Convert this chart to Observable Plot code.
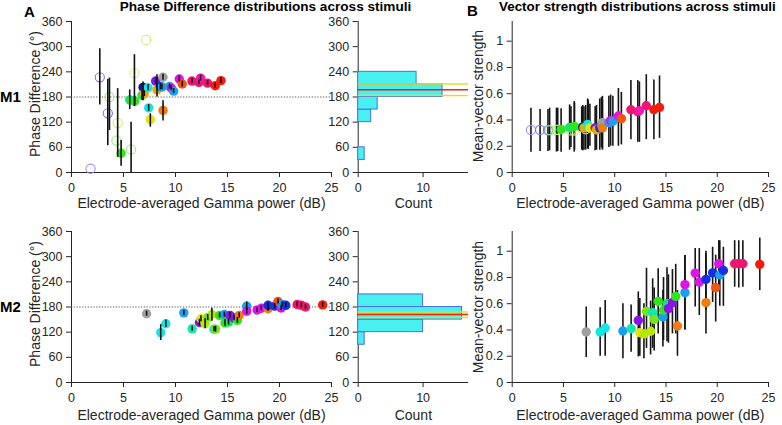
<!DOCTYPE html>
<html><head><meta charset="utf-8">
<script src="https://cdn.jsdelivr.net/npm/d3@7"></script>
<script src="https://cdn.jsdelivr.net/npm/@observablehq/plot@0.6"></script>
<style>
body{margin:0;background:#fff;}
#wrap{position:relative;width:782px;height:425px;overflow:hidden;font-family:"Liberation Sans",Arial,Helvetica,sans-serif;color:#262626;background:#fff}
.t{position:absolute;font-weight:bold;line-height:1.1;white-space:nowrap;color:#000}
#wrap svg{position:absolute;overflow:visible}
</style></head><body><div id="wrap"></div>
<script>
// ---------- data ----------
const colorNames = ["red","orangered","orange","amber","yellow","yellowgreen","chartreuse","green","spring","aqua","cyan","sky","blue","navy","purple","magenta","pink","crimson","gray","lavender","periwinkle","slate","lightgreen","palegreen"];
const colorHex   = ["#f51b0d","#f2520a","#f27a12","#f0a800","#e6e600","#b8e60a","#78e614","#2ee619","#14e66b","#14e6b0","#14e6e6","#1aa0f0","#1430e6","#14149e","#8a14e6","#dc14e6","#f01ab0","#f0146e","#a0a0a0","#a58cf5","#7878f0","#8070f0","#98f078","#d0f078"];

const gammaTicks = [0,5,10,15,20,25];
const phaseTicks = [0,60,120,180,240,300,360];
const vsTicks = [0,0.2,0.4,0.6,0.8,1];
const countTicks = [0,10];

// Monkey M1
const m1X = [1.83,2.72,3.49,3.65,4.32,4.44,4.77,5.6,5.73,6.05,6.08,6.78,6.88,7.0,7.17,7.36,7.42,7.58,8.09,8.22,8.54,8.7,8.8,8.8,9.43,9.6,9.82,10.36,10.65,11.58,12.25,12.41,13.08,13.82,14.37];
const m1Color = ["lavender","periwinkle","slate","lightgreen","lightgreen","palegreen","green","spring","lightgreen","palegreen","green","spring","navy","amber","palegreen","cyan","cyan","yellow","purple","amber","blue","sky","gray","orange","sky","magenta","sky","magenta","orangered","crimson","crimson","pink","crimson","red","red"];
const m1Open = [1,1,1,1,1,1,0,0,1,1,0,0,0,0,1,0,0,0,0,0,0,0,0,0,0,0,0,0,0,0,0,0,0,0,0];
const m1Phase   = [9,227,141,180,76,118,46,173,55,237,170,184,203,188,316,202,154,126,218,197,205,204,227,148,205,201,194,223,211,218,215,225,213,207,219];
const m1PhaseLo = [null,161,64,100,null,36,15,150,0,157,160,172,171,181,null,195,146,108,211,180,197,197,220,123,199,195,188,216,204,212,209,218,207,201,212];
const m1PhaseHi = [null,295,222,225,null,200,76,197,120,281,182,196,216,195,null,209,162,140,225,233,213,211,234,171,211,207,200,230,218,224,221,232,219,213,226];
const m1VS   = [0.324,0.324,0.322,0.322,0.325,0.325,0.328,0.344,0.32,0.32,0.35,0.345,0.345,0.34,0.33,0.365,0.35,0.34,0.34,0.325,0.34,0.36,0.38,0.34,0.38,0.395,0.39,0.43,0.41,0.478,0.463,0.47,0.508,0.478,0.495];
const m1VSLo = [0.155,0.16,0.16,0.165,0.155,0.16,0.155,0.17,0.19,0.155,0.17,0.17,0.165,0.17,0.17,0.18,0.175,0.2,0.165,0.17,0.17,0.19,0.18,0.17,0.19,0.2,0.2,0.2,0.21,0.25,0.23,0.23,0.25,0.25,0.26];
const m1VSHi = [0.49,0.48,0.48,0.49,0.49,0.49,0.485,0.515,0.5,0.54,0.53,0.5,0.51,0.5,0.51,0.56,0.55,0.52,0.5,0.51,0.56,0.57,0.58,0.55,0.58,0.59,0.58,0.64,0.61,0.7,0.7,0.69,0.745,0.705,0.735];

// Monkey M2
const m2X = [7.22,8.58,9.07,10.8,11.6,12.3,12.45,12.85,13.1,13.5,13.7,13.85,14.24,14.7,14.76,15.1,15.24,15.63,15.95,16.12,16.85,16.85,17.85,18.25,18.9,18.9,19.55,19.85,20.15,20.25,20.6,21.7,22.1,22.5,24.15];
const m2Color = ["gray","cyan","cyan","sky","aqua","purple","yellow","yellowgreen","chartreuse","yellowgreen","aqua","chartreuse","green","sky","green","spring","purple","purple","green","orange","sky","magenta","magenta","magenta","orange","blue","blue","orangered","magenta","sky","blue","crimson","crimson","crimson","red"];
const m2Open = m2X.map(() => 0);
const m2Phase   = [164,119,140,166,128,143,152,140,155,162,127,127,160,162,142,144,160,154,148,160,182,170,173,177,176,184,182,193,177.5,186,184,186,184,180,185];
const m2PhaseLo = [158,100,131,160,122,135,145,128,148,146,121,120,154,156,134,137,153,147,141,154,172,163,167,171,170,178,176,187,171,180,178,180,178,174,179];
const m2PhaseHi = [170,138,149,172,134,151,159,152,162,177,133,134,166,168,150,151,167,161,155,166,192,177,179,183,182,190,188,199,184,192,190,192,190,186,191];
const m2VS   = [0.385,0.385,0.415,0.392,0.41,0.473,0.38,0.37,0.542,0.39,0.532,0.48,0.618,0.5,0.55,0.6,0.563,0.608,0.656,0.43,0.684,0.745,0.833,0.765,0.608,0.785,0.835,0.722,0.904,0.82,0.853,0.904,0.904,0.904,0.9];
const m2VSLo = [0.19,0.2,0.2,0.18,0.23,0.195,0.2,0.18,0.26,0.21,0.26,0.24,0.37,0.27,0.32,0.31,0.3,0.37,0.37,0.2,0.4,0.4,0.575,0.51,0.37,0.55,0.61,0.46,0.73,0.58,0.58,0.726,0.72,0.726,0.7];
const m2VSHi = [0.575,0.57,0.625,0.6,0.59,0.69,0.64,0.6,0.87,0.62,0.79,0.72,0.866,0.7,0.8,0.873,0.82,0.86,0.9,0.7,0.967,0.967,1.02,1.02,0.98,1.0,1.03,0.97,1.08,1.08,1.03,1.08,1.08,1.08,1.1];

// Histograms of phase (30° bins)
const binStart = [0,30,60,90,120,150,180,210];
const m1Counts = [0,1,0,0,2,3,13,9];
const m2Counts = [0,0,0,1,10,16,10,0];
const m1Mean = 197, m1CI = [183.5, 211];
const m2Mean = 162, m2CI = [155, 168];

// ---------- drawing ----------
const wrap = document.getElementById("wrap");
const FONT = '"Liberation Sans", Arial, Helvetica, sans-serif';
const AX = "#262626";
const colorScale = {domain: colorNames, range: colorHex};

function rows(X, C, O, Y, L, H) {
  return X.map((x, i) => ({x, c: C[i], open: O[i], y: Y[i], lo: L[i], hi: H[i]}));
}
function place(svg, left, top) {
  svg.style.left = left + "px"; svg.style.top = top + "px";
  wrap.appendChild(svg);
}
function common(width, mL, mR) {
  return {width, height: 215, marginLeft: mL, marginRight: mR, marginTop: 21, marginBottom: 43,
    style: {fontFamily: FONT, fontSize: "12.5px", color: AX, background: "transparent", overflow: "visible"}};
}
function axes(xt, yt, xlab, ylab, yLabDx, bottomRow, yfmt) {
  return [
    Plot.ruleY([yt[0]], {stroke: AX, strokeWidth: 1}),
    Plot.ruleX([xt[0]], {stroke: AX, strokeWidth: 1}),
    Plot.axisX({ticks: xt, tickSize: 5, tickPadding: 6, label: null, fontSize: 12.5}),
    Plot.axisY({ticks: yt, tickSize: 5, tickPadding: 4, label: null, fontSize: 12.5, tickFormat: yfmt}),
    Plot.text([xlab], {frameAnchor: "bottom", dy: bottomRow ? 37 : 35, lineAnchor: "bottom", fontSize: 14, fill: AX}),
    ...(ylab ? [Plot.text([ylab], {frameAnchor: "left", textAnchor: "middle", rotate: -90, dx: yLabDx, dy: -3, lineAnchor: "middle", fontSize: 14, fill: AX})] : [])
  ];
}

function phasePanel(data, bottomRow) {
  return Plot.plot({
    ...common(345, 71, 14),
    x: {domain: [0, 25]}, y: {domain: [0, 360]}, color: colorScale,
    marks: [
      ...axes(gammaTicks, phaseTicks, "Electrode-averaged Gamma power (dB)", "Phase Difference (°)", -36, bottomRow),
      Plot.ruleY([180], {stroke: "#555", strokeWidth: 1, strokeDasharray: "1.2,1.6"}),
      Plot.dot(data.filter(d => d.open), {x: "x", y: "y", r: 4.6, stroke: "c", strokeWidth: 1.1, fill: "none"}),
      Plot.dot(data.filter(d => !d.open), {x: "x", y: "y", r: 4.7, fill: "c", stroke: "none"}),
      Plot.ruleX(data.filter(d => d.lo != null), {x: "x", y1: "lo", y2: "hi", stroke: "#111", strokeWidth: 1.6})
    ]
  });
}
function vsPanel(data, bottomRow) {
  return Plot.plot({
    ...common(332, 61.7, 14),
    x: {domain: [0, 25]}, y: {domain: [0, 1.15]}, color: colorScale,
    marks: [
      ...axes(gammaTicks, vsTicks, "Electrode-averaged Gamma power (dB)", null, 0, bottomRow, d => String(d)),
      Plot.ruleX(data, {x: "x", y1: "lo", y2: "hi", stroke: "#151515", strokeWidth: 1.6}),
      Plot.dot(data.filter(d => d.open), {x: "x", y: "y", r: 4.6, stroke: "c", strokeWidth: 1.1, fill: "none"}),
      Plot.dot(data.filter(d => !d.open), {x: "x", y: "y", r: 4.7, fill: "c", stroke: "none"})
    ]
  });
}
function histPanel(counts, mean, ci, bottomRow) {
  const bins = binStart.map((b, i) => ({y1: b, y2: b + 30, x1: 0, x2: counts[i]}))
    .filter((d, i) => i < counts.length - (bottomRow ? 1 : 0));
  return Plot.plot({
    ...common(175, 57.7, 7),
    x: {domain: [0, 17]}, y: {domain: [0, 360]},
    marks: [
      ...axes(countTicks, phaseTicks, "Count", null, 0, bottomRow),
      Plot.rect(bins, {x1: "x1", x2: "x2", y1: "y1", y2: "y2", fill: "#48f0f0", stroke: "#4a6cf0", strokeWidth: 1}),
      Plot.ruleY(ci, {stroke: "#dede2a", strokeWidth: 1.5}),
      Plot.ruleY([mean], {stroke: "#ec2020", strokeWidth: 1.5})
    ]
  });
}

const m1P = rows(m1X, m1Color, m1Open, m1Phase, m1PhaseLo, m1PhaseHi);
const m1V = rows(m1X, m1Color, m1Open, m1VS, m1VSLo, m1VSHi);
const m2P = rows(m2X, m2Color, m2Open, m2Phase, m2PhaseLo, m2PhaseHi);
const m2V = rows(m2X, m2Color, m2Open, m2VS, m2VSLo, m2VSHi);

place(phasePanel(m1P, false), 0, 0);
place(histPanel(m1Counts, m1Mean, m1CI, false), 300, 0);
place(vsPanel(m1V, false), 450, 0);
place(phasePanel(m2P, true), 0, 210);
place(histPanel(m2Counts, m2Mean, m2CI, true), 300, 210);
place(vsPanel(m2V, true), 450, 210);

// y label for vector strength panels
function vlabel(txt, cx, cy) {
  const d = document.createElement("div");
  d.textContent = txt;
  d.style.cssText = `position:absolute;left:${cx}px;top:${cy}px;transform:translate(-50%,-50%) rotate(-90deg);font-size:14px;line-height:1;white-space:nowrap;color:${AX};`;
  wrap.appendChild(d);
}
vlabel("Mean-vector strength", 478, 96);
vlabel("Mean-vector strength", 478, 307);

function title(txt, left, top, size, center) {
  const d = document.createElement("div");
  d.className = "t"; d.textContent = txt;
  d.style.left = left + "px"; d.style.top = top + "px"; d.style.fontSize = size + "px";
  if (center) d.style.transform = "translateX(-50%)";
  wrap.appendChild(d);
}
title("A", 24, 4, 15);
title("Phase Difference distributions across stimuli", 265.5, 0, 13.6, true);
title("B", 467, 2.5, 15);
title("Vector strength distributions across stimuli", 499, 0, 13.4);
title("M1", 0, 89, 15);
title("M2", 0, 299, 15);
</script></body></html>
